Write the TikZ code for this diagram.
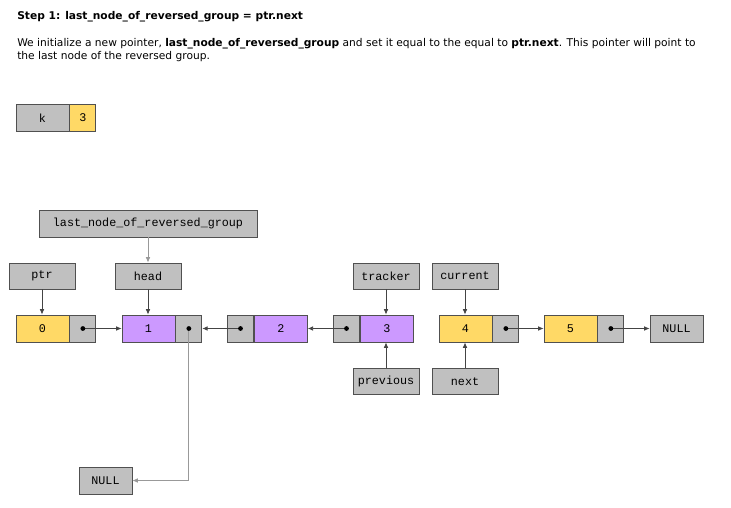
\documentclass[tikz,border=0pt]{standalone}
\usepackage{fontspec}
\setmainfont{DejaVu Sans}
\setmonofont{Liberation Mono}
\usepackage{xcolor}
\usetikzlibrary{arrows.meta}
\definecolor{cellgray}{HTML}{C0C0C0}
\definecolor{cellyellow}{HTML}{FFD966}
\definecolor{cellpurple}{HTML}{CC99FF}
\definecolor{cellborder}{HTML}{505050}
\definecolor{linkgray}{HTML}{444444}
\definecolor{lightlink}{HTML}{999999}

\begin{document}
\begin{tikzpicture}[x=0.75pt,y=-0.75pt,
                    cell/.style={draw=cellborder,line width=0.65pt,inner sep=0pt,minimum height=20.25pt,font=\ttfamily\fontsize{8.8}{10}\selectfont},
                    val/.style={cell,minimum width=39.75pt},
                    ptrcell/.style={cell,fill=cellgray,minimum width=19.5pt},
                    label/.style={cell,fill=cellgray,minimum width=49.5pt,minimum height=19.5pt},
                    link/.style={draw=linkgray,line width=0.6pt,-{Latex[length=4pt,width=3.5pt]}},
                    dot/.style={fill=black}]
\useasboundingbox (0,0) rectangle (731,507);

% text above
\node[anchor=west,inner sep=0pt,font=\bfseries\fontsize{8}{10}\selectfont] (title) at (17,17) {Step 1: last\_node\_of\_reversed\_group = ptr.next};
\node[anchor=north west,inner sep=0pt,align=left,font=\fontsize{8}{9.5}\selectfont] (desc) at (17,38)
  {We initialize a new pointer, \textbf{last\_node\_of\_reversed\_group} and set it equal to the equal to \textbf{ptr.next}. This pointer will point to\\the last node of the reversed group.};

% k
\node[val,fill=cellgray] (k) at (42.5,118) {k};
\node[ptrcell,fill=cellyellow,anchor=west] (kval) at (k.east) {3};

% pointer labels
\node[cell,fill=cellgray,minimum width=163.5pt] (last) at (148,223.5) {last\_node\_of\_reversed\_group};
\node[label] (ptr) at (42,276) {ptr};
\node[label] (head) at (148,276) {head};
\node[label] (tracker) at (386,276) {tracker};
\node[label] (current) at (465,276) {current};
\node[label] (previous) at (386,381.5) {previous};
\node[label] (next) at (465,381.5) {next};

% list
\node[val,fill=cellyellow] (v0) at (42.5,328.5) {0};
\node[ptrcell,anchor=west] (p0) at (v0.east) {};
\node[val,fill=cellpurple] (v1) at (148.5,328.5) {1};
\node[ptrcell,anchor=west] (p1) at (v1.east) {};
\node[ptrcell] (p2) at (240.5,328.5) {};
\node[val,fill=cellpurple,anchor=west] (v2) at (p2.east) {2};
\node[ptrcell] (p3) at (346.5,328.5) {};
\node[val,fill=cellpurple,anchor=west] (v3) at (p3.east) {3};
\node[val,fill=cellyellow] (v4) at (465.5,328.5) {4};
\node[ptrcell,anchor=west] (p4) at (v4.east) {};
\node[val,fill=cellyellow] (v5) at (570.5,328.5) {5};
\node[ptrcell,anchor=west] (p5) at (v5.east) {};
\node[val,fill=cellgray] (null1) at (676.5,328.5) {NULL};
\node[val,fill=cellgray] (null2) at (105.5,480.5) {NULL};

\draw[link,draw=lightlink] (last) -- (last |- head.north);
\draw[link] (ptr) -- (ptr |- v0.north);
\draw[link] (head) -- (head |- v1.north);
\draw[link] (tracker) -- (tracker |- v3.north);
\draw[link] (current) -- (current |- v4.north);
\draw[link] (previous) -- (previous |- v3.south);
\draw[link] (next) -- (next |- v4.south);

\draw[link] (p0.center) -- (v1.west);
\draw[link] (p2.center) -- (p1.east);
\draw[link] (p3.center) -- (v2.east);
\draw[link] (p4.center) -- (v5.west);
\draw[link] (p5.center) -- (null1.west);
\draw[link,draw=lightlink] (p1.center) |- (null2.east);

\foreach \p in {p0,p1,p2,p3,p4,p5}
  \fill[dot] (\p.center) circle (1.8pt);
\end{tikzpicture}
\end{document}
